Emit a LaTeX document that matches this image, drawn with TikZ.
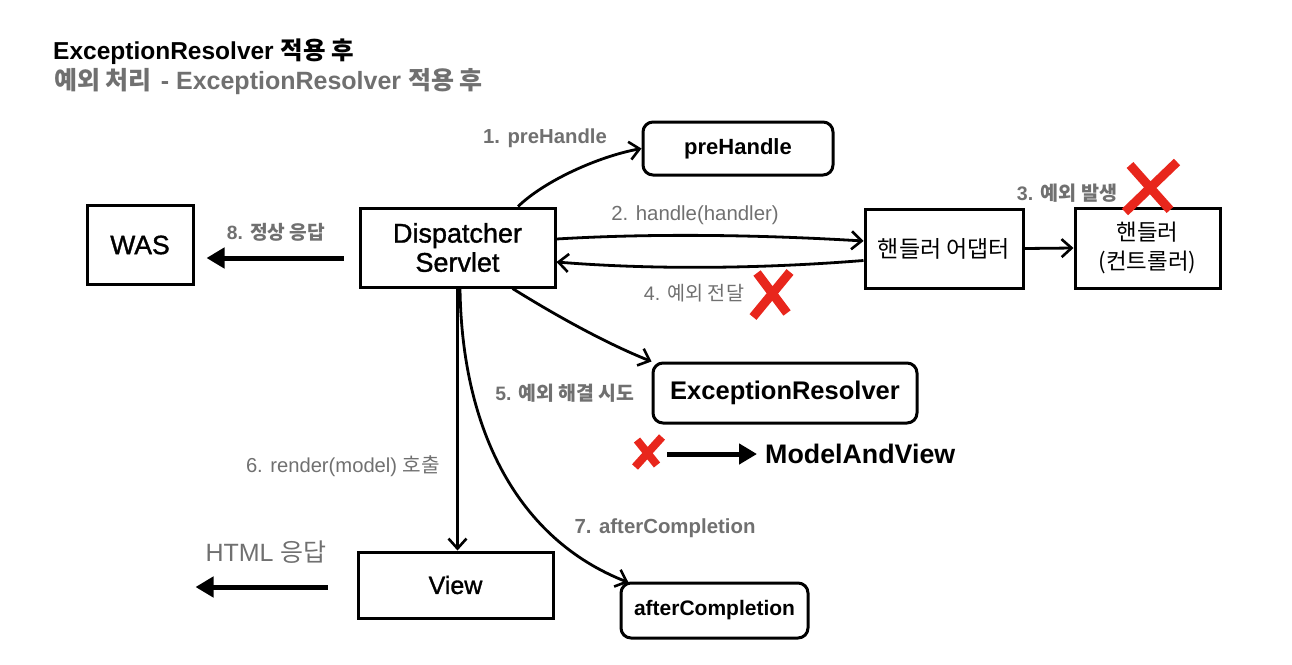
\documentclass[tikz,border=0pt]{standalone}
\usepackage{fontspec}
\setmainfont{Liberation Sans}
\newfontfamily\kr{Noto Sans CJK KR}
\newfontfamily\mdfont{Liberation Sans}[FakeBold=1.3]
\usetikzlibrary{arrows.meta,calc}
\definecolor{lblgray}{HTML}{707070}
\definecolor{xred}{HTML}{E8261C}
\newcommand\fsz[1]{\fontsize{#1}{#1}\selectfont}
\tikzset{
  box/.style={draw, line width=3pt, inner sep=0pt, align=center},
  rbox/.style={box, rounded corners=10pt},
  lbl/.style={text=lblgray, inner sep=0pt, anchor=center},
  conn/.style={line width=2.8pt, -{Straight Barb[length=10pt,width=18pt,line width=2.6pt]}},
  fat/.style={line width=5pt, -{Triangle[length=18pt,width=20pt]}},
  redx/.style={draw=xred, line width=9pt},
}
\begin{document}
\begin{tikzpicture}[x=1pt,y=-1pt]
\useasboundingbox (0,0) rectangle (1292,664);

% titles
\node[anchor=west, inner sep=0pt] (t1) at (53,52) {\fsz{24.5}\bfseries ExceptionResolver {\kr 적용 후}};
\node[anchor=west, inner sep=0pt, text=lblgray] (t2) at (54,82) {\fsz{25}\bfseries {\kr 예외 처리}\hspace{2pt} - ExceptionResolver {\kr 적용 후}};

% boxes
\node[box, minimum width=106pt, minimum height=79pt] (was) at (140,245) {\fsz{26.5}\mdfont WAS};
\node[box, minimum width=195pt, minimum height=79pt] (ds) at (457.5,247.5) {\fsz{27}\mdfont Dispatcher\\[3pt]\fsz{27}\mdfont Servlet};
\node[rbox, minimum width=190pt, minimum height=53pt] (pre) at (738,148.5) {\fsz{22}\bfseries preHandle};
\node[box, minimum width=158pt, minimum height=79pt] (ad) at (944,248.5) {\fsz{23}\kr 핸들러 어댑터};
\node[box, minimum width=145pt, minimum height=80pt] (h) at (1147.5,248) {\fsz{22.4}\kr 핸들러\\[7pt]\fsz{22.4}\kr (컨트롤러)};
\node[rbox, minimum width=264pt, minimum height=60pt] (er) at (785,393) {\fsz{25.5}\bfseries ExceptionResolver};
\node[box, minimum width=195pt, minimum height=66pt] (view) at (455.5,585) {\fsz{25}\mdfont View};
\node[rbox, minimum width=187pt, minimum height=55pt] (ac) at (714.5,610.5) {\fsz{21}\bfseries afterCompletion};
\node[anchor=west, inner sep=0pt] (mav) at (765,454) {\fsz{26.8}\bfseries ModelAndView};

% labels
\node[lbl] (l1) at (545,138) {\fsz{20.3}\bfseries 1. preHandle};
\node[lbl] (l2) at (695,215) {\fsz{20.4}2. handle(handler)};
\node[lbl] (l3) at (1067,193) {\fsz{19.6}\bfseries 3. {\kr 예외 발생}};
\node[lbl] (l4) at (694,293) {\fsz{19.6}4. {\kr 예외 전달}};
\node[lbl] (l5) at (565,393) {\fsz{19.4}\bfseries 5. {\kr 예외 해결 시도}};
\node[lbl] (l6) at (343,466) {\fsz{20.2}6. render(model) {\kr 호출}};
\node[lbl] (l7) at (665,528) {\fsz{20.4}\bfseries 7. afterCompletion};
\node[lbl] (l8) at (276,232) {\fsz{19.2}\bfseries 8. {\kr 정상 응답}};
\node[lbl] (lh) at (266,552) {\fsz{25}HTML {\kr 응답}};

% connectors
\draw[conn] ([xshift=60.5pt]ds.north) .. controls +(27,-26) and +(-43,8) .. (pre.west);
\draw[conn] ([yshift=8.5pt]ds.east) .. controls +(100,-6) and +(-100,-6) .. ([yshift=7.5pt]ad.west);
\draw[conn] ([yshift=-12pt]ad.west) .. controls +(-100,8) and +(100,8) .. ([yshift=-14.5pt]ds.east);
\draw[conn] (ad.east) -- (h.west);
\draw[conn] ([xshift=55pt]ds.south) .. controls +(45,28) and +(-45,-18) .. (er.north west);
\draw[conn] (ds.south) -- (ds.south |- view.north);
\draw[conn] ([xshift=2.5pt]ds.south) .. controls +(2,143) and +(-110,-43) .. ([xshift=9pt,yshift=-1pt]ac.north west);

\draw[fat] ([xshift=-15pt,yshift=-10.5pt]ds.west) -- ++(-137,0) coordinate (e8);
\draw[fat] ([xshift=-29pt,yshift=-2pt]view.west) -- ++(-132,0) coordinate (eh);
\draw[fat] ([xshift=-98pt]mav.west) -- ([xshift=-8pt]mav.west);

% red crosses
\draw[redx] (1130,165) -- (1170,210) (1177,162) -- (1125,212);
\draw[redx] (790,272) -- (753,317) (757,273) -- (787,313);
\draw[redx, line width=8pt] (662,437) -- (635,467) (637,440) -- (657,465);
\end{tikzpicture}
\end{document}
